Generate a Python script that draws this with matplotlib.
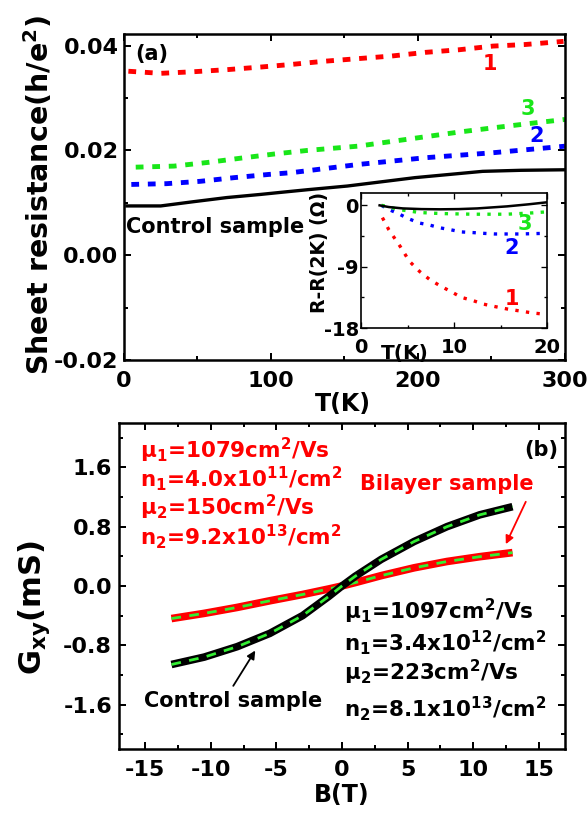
import matplotlib
matplotlib.use("Agg")
import matplotlib.pyplot as plt
from matplotlib.ticker import MultipleLocator

plt.rcParams['font.family'] = ['DejaVu Sans']
plt.rcParams['font.weight'] = 'bold'
plt.rcParams['mathtext.fontset'] = 'dejavusans'
plt.rcParams['mathtext.default'] = 'bf'
plt.rcParams['axes.unicode_minus'] = False

# ---- (a) sheet resistance vs temperature ----
T_red = [3, 25, 47, 70, 93, 114, 136, 159, 182, 205, 228, 251, 273, 299]
R_red = [0.0351, 0.0347, 0.0350, 0.0354, 0.0359, 0.0364, 0.0370, 0.0375,
         0.0380, 0.0387, 0.0392, 0.0399, 0.0402, 0.0408]
T_green = [8, 34, 57, 79, 102, 125, 159, 182, 205, 228, 251, 275, 300]
R_green = [0.0168, 0.0170, 0.0177, 0.0185, 0.0193, 0.0200, 0.0208, 0.0217,
           0.0226, 0.0235, 0.0243, 0.0251, 0.0259]
T_blue = [5, 29, 52, 75, 98, 114, 130, 159, 205, 251, 300]
R_blue = [0.0135, 0.01365, 0.0141, 0.0148, 0.0154, 0.01575, 0.0163, 0.0173,
          0.0186, 0.01955, 0.0208]
T_ctrl = [2, 25, 47, 70, 93, 107, 125, 152, 198, 244, 270, 300]
R_ctrl = [0.0094, 0.0094, 0.0102, 0.0110, 0.0116, 0.0120, 0.0125, 0.0132,
          0.0148, 0.0160, 0.0162, 0.0163]

# inset: R - R(2K) at low temperature
Ti_red = [2.3, 3.0, 4.2, 5.2, 6.3, 7.4, 8.5, 9.6, 10.8, 12.1, 13.2, 14.4,
          15.7, 17.1, 18.5, 20.0]
dR_red = [-1.8, -3.6, -6.0, -8.2, -9.7, -10.9, -11.8, -12.6, -13.5, -14.0,
          -14.5, -14.85, -15.2, -15.5, -15.8, -16.0]
Ti_blue = [2.2, 2.8, 4.0, 5.0, 6.3, 7.4, 8.5, 9.7, 10.8, 12.1, 13.1, 14.4,
           17.1, 20.0]
dR_blue = [0.0, -0.5, -1.2, -1.9, -2.6, -2.9, -3.3, -3.6, -3.9, -4.0, -4.1,
           -4.2, -4.2, -4.1]
Ti_green = [2.2, 2.8, 4.0, 5.0, 6.3, 8.5, 12.0, 15.7, 18.5, 20.0]
dR_green = [0.0, -0.15, -0.6, -0.8, -1.05, -1.2, -1.3, -1.3, -1.1, -0.95]
Ti_ctrl = [2.0, 3.0, 4.5, 6.5, 8.5, 10.5, 12.5, 15.7, 18.0, 20.0]
dR_ctrl = [0.0, -0.25, -0.45, -0.55, -0.58, -0.55, -0.45, -0.15, 0.15, 0.45]

# ---- (b) Hall conductance vs field ----
B = [-13, -10.5, -8, -5.5, -3, -1, 0, 1, 3, 5.5, 8, 10.5, 13]
G_bilayer = [-0.44, -0.37, -0.29, -0.20, -0.115, -0.04, 0.0, 0.045, 0.14,
             0.245, 0.33, 0.395, 0.45]
G_control = [-1.06, -0.96, -0.82, -0.64, -0.40, -0.14, 0.0, 0.13, 0.36,
             0.60, 0.80, 0.96, 1.07]

RED = '#ff0000'
GREEN = '#19e619'
BLUE = '#0000ff'
FIT = '#33ee33'

fig = plt.figure(figsize=(5.87, 8.14), dpi=100)


def style_axes(ax, lw, size, pad_x, pad_y, maj=5, mnr=3):
    for s in ax.spines.values():
        s.set_linewidth(lw)
    ax.tick_params(which='both', direction='in', top=True, right=True,
                   width=lw * 0.8, labelsize=size)
    ax.tick_params(which='major', length=maj)
    ax.tick_params(which='minor', length=mnr)
    ax.tick_params(axis='x', pad=pad_x)
    ax.tick_params(axis='y', pad=pad_y)
    for lab in ax.get_xticklabels() + ax.get_yticklabels():
        lab.set_fontweight('bold')


# ---------- panel (a) ----------
axa = fig.add_axes([0.2112, 0.5577, 0.7513, 0.4005])
axa.plot(T_red, R_red, color=RED, lw=3.5, dashes=(1.6, 1.8))
axa.plot(T_green, R_green, color=GREEN, lw=3.5, dashes=(1.6, 1.8))
axa.plot(T_blue, R_blue, color=BLUE, lw=3.5, dashes=(1.6, 1.8))
axa.plot(T_ctrl, R_ctrl, color='black', lw=2.4)
axa.set_xlim(0, 300)
axa.set_ylim(-0.02, 0.0422)
axa.set_xticks([0, 100, 200, 300])
axa.set_yticks([-0.02, 0.00, 0.02, 0.04])
axa.set_yticklabels(['-0.02', '0.00', '0.02', '0.04'])
axa.xaxis.set_minor_locator(MultipleLocator(50))
axa.yaxis.set_minor_locator(MultipleLocator(0.01))
style_axes(axa, 1.8, 16, 8, 4)
axa.set_xlabel('T(K)', fontsize=17, fontweight='bold')
axa.xaxis.set_label_coords(0.497, -0.098)
axa.set_ylabel('Sheet resistance(h/e$^2$)', fontsize=20.5, fontweight='bold')
axa.yaxis.set_label_coords(-0.156, 0.505)

axa.text(19, 0.0383, '(a)', fontsize=15, fontweight='bold', ha='center', va='center')
axa.text(249, 0.0364, '1', color=RED, fontsize=15, fontweight='bold', ha='center', va='center')
axa.text(275, 0.0278, '3', color=GREEN, fontsize=15, fontweight='bold', ha='center', va='center')
axa.text(281, 0.0227, '2', color=BLUE, fontsize=15, fontweight='bold', ha='center', va='center')
axa.text(1.5, 0.0053, 'Control sample', fontsize=15, fontweight='bold', ha='left', va='center')

# inset
axi = fig.add_axes([0.615, 0.597, 0.3169, 0.1658])
axi.plot(Ti_red, dR_red, color=RED, lw=2.4, dashes=(1, 2.2))
axi.plot(Ti_blue, dR_blue, color=BLUE, lw=2.4, dashes=(1, 2.2))
axi.plot(Ti_green, dR_green, color=GREEN, lw=2.4, dashes=(1, 2.2))
axi.plot(Ti_ctrl, dR_ctrl, color='black', lw=1.8)
axi.set_xlim(0, 20)
axi.set_ylim(-18, 1.8)
axi.set_xticks([0, 10, 20])
axi.set_yticks([-18, -9, 0])
axi.xaxis.set_minor_locator(MultipleLocator(5))
axi.yaxis.set_minor_locator(MultipleLocator(4.5))
style_axes(axi, 1.2, 14, 7, 1.5, maj=4, mnr=2.5)
axi.set_ylabel('R-R(2K) (Ω)', fontsize=13.5, fontweight='bold')
axi.yaxis.set_label_coords(-0.17, 0.56)
axi.text(16.2, -13.8, '1', color=RED, fontsize=15, fontweight='bold', ha='center', va='center')
axi.text(16.2, -6.3, '2', color=BLUE, fontsize=15, fontweight='bold', ha='center', va='center')
axi.text(17.6, -2.7, '3', color=GREEN, fontsize=15, fontweight='bold', ha='center', va='center')
axi.text(4.7, -0.19, 'T(K)', transform=axi.get_xaxis_transform(),
         fontsize=14.5, fontweight='bold', ha='center', va='center')

# ---------- panel (b) ----------
axb = fig.add_axes([0.2027, 0.0799, 0.7598, 0.4005])
axb.plot(B, G_bilayer, color=RED, lw=5.5, solid_capstyle='butt')
axb.plot(B, G_bilayer, color=FIT, lw=2, dashes=(3.5, 3))
axb.plot(B, G_control, color='black', lw=5.5, solid_capstyle='butt')
axb.plot(B, G_control, color=FIT, lw=2, dashes=(3.5, 3))
axb.set_xlim(-17, 17)
axb.set_ylim(-2.2, 2.2)
axb.set_xticks([-15, -10, -5, 0, 5, 10, 15])
axb.set_yticks([-1.6, -0.8, 0.0, 0.8, 1.6])
axb.xaxis.set_minor_locator(MultipleLocator(2.5))
axb.yaxis.set_minor_locator(MultipleLocator(0.4))
style_axes(axb, 1.8, 16, 8, 5)
axb.set_xlabel('B(T)', fontsize=17, fontweight='bold')
axb.xaxis.set_label_coords(0.5, -0.104)
axb.set_ylabel('G$_{xy}$(mS)', fontsize=22, fontweight='bold')
axb.yaxis.set_label_coords(-0.150, 0.435)

axb.text(15.2, 1.84, '(b)', fontsize=15, fontweight='bold', ha='center', va='center')

red_lines = [('μ$_1$=1079cm$^2$/Vs', 1.83),
             ('n$_1$=4.0x10$^{11}$/cm$^2$', 1.45),
             ('μ$_2$=150cm$^2$/Vs', 1.06),
             ('n$_2$=9.2x10$^{13}$/cm$^2$', 0.66)]
for s, g in red_lines:
    axb.text(-15.4, g, s, color=RED, fontsize=15.5, fontweight='bold', ha='left', va='center')

black_lines = [('μ$_1$=1097cm$^2$/Vs', -0.35),
               ('n$_1$=3.4x10$^{12}$/cm$^2$', -0.76),
               ('μ$_2$=223cm$^2$/Vs', -1.17),
               ('n$_2$=8.1x10$^{13}$/cm$^2$', -1.66)]
for s, g in black_lines:
    axb.text(0.15, g, s, color='black', fontsize=15.5, fontweight='bold', ha='left', va='center')

axb.text(1.4, 1.37, 'Bilayer sample', color=RED, fontsize=15, fontweight='bold',
         ha='left', va='center')
axb.annotate('', xy=(12.4, 0.53), xytext=(14.1, 1.17),
             arrowprops=dict(arrowstyle='-|>', color=RED, lw=1.3, mutation_scale=12))
axb.text(-15.1, -1.55, 'Control sample', color='black', fontsize=15, fontweight='bold',
         ha='left', va='center')
axb.annotate('', xy=(-6.5, -0.84), xytext=(-8.4, -1.38),
             arrowprops=dict(arrowstyle='-|>', color='black', lw=1.3, mutation_scale=12))

fig.savefig('out.png', dpi=100)
